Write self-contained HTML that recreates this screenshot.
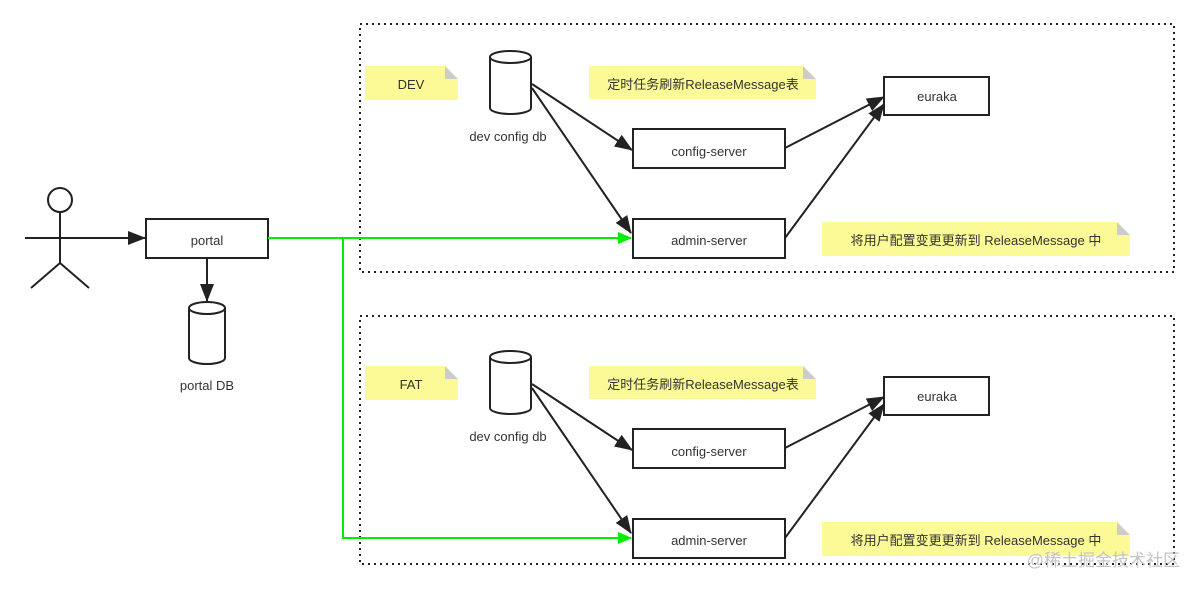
<!DOCTYPE html>
<html><head><meta charset="utf-8"><style>
html,body{margin:0;padding:0;background:#fff;width:1198px;height:589px;overflow:hidden}
text{font-family:"Liberation Sans","Noto Sans CJK SC",sans-serif;font-size:13px;fill:#333}
</style></head><body>
<svg width="1198" height="589" viewBox="0 0 1198 589" xmlns="http://www.w3.org/2000/svg">
<defs>
<marker id="g" markerWidth="14" markerHeight="14" refX="13" refY="7" orient="auto" markerUnits="userSpaceOnUse"><path d="M0,1 L14,7 L0,13 Z" fill="#00ee00"/></marker>
<marker id="b" markerWidth="18" markerHeight="14" refX="17" refY="7" orient="auto" markerUnits="userSpaceOnUse"><path d="M0,0 L18,7 L0,14 Z" fill="#222"/></marker>
</defs>
<g stroke="#222" stroke-width="2" fill="none">
<circle cx="60" cy="200" r="12" fill="#fff"/>
<line x1="60" y1="212" x2="60" y2="263"/>
<line x1="25" y1="238" x2="145" y2="238" marker-end="url(#b)"/>
<line x1="60" y1="263" x2="31" y2="288"/>
<line x1="60" y1="263" x2="89" y2="288"/>
<rect x="146" y="219" width="122" height="39" fill="#fff"/>
<line x1="207" y1="258" x2="207" y2="301" marker-end="url(#b)"/>
<path d="M189,308 a18,6 0 0 1 36,0 v50 a18,6 0 0 1 -36,0 Z" fill="#fff"/>
<path d="M189,308 a18,6 0 0 0 36,0"/>
</g>
<text x="207" y="245" text-anchor="middle">portal</text>
<text x="207" y="390" text-anchor="middle">portal DB</text>
<rect x="360" y="24" width="814" height="248" fill="none" stroke="#222" stroke-width="2" stroke-dasharray="2,4"/>
<rect x="360" y="316" width="814" height="248" fill="none" stroke="#222" stroke-width="2" stroke-dasharray="2,4"/>
<g id="env"></g>
<g stroke="#00ee00" stroke-width="2" fill="none">
<polyline points="268,238 343,238 343,538 631,538" marker-end="url(#g)"/>
<line x1="343" y1="238" x2="631" y2="238" marker-end="url(#g)"/>
</g>
<text x="1180" y="566" text-anchor="end" style="font-size:17px;fill:#c4c4c4">@稀土掘金技术社区</text>
</svg>
<script>
var tpl=function(lbl){return `
<path d="M365,66 H445 L458,79 V100 H365 Z" fill="#fbfa96"/><path d="M445,66 L458,79 H445 Z" fill="#ccc"/>
<text x="411" y="89" text-anchor="middle">${lbl}</text>
<path d="M589,66 H803 L816,79 V99 H589 Z" fill="#fbfa96"/><path d="M803,66 L816,79 H803 Z" fill="#ccc"/>
<text x="703" y="89" text-anchor="middle">定时任务刷新ReleaseMessage表</text>
<path d="M822,222 H1117 L1130,235 V256 H822 Z" fill="#fbfa96"/><path d="M1117,222 L1130,235 H1117 Z" fill="#ccc"/>
<text x="976" y="245" text-anchor="middle">将用户配置变更更新到 ReleaseMessage 中</text>
<g stroke="#222" stroke-width="2" fill="none">
<path d="M490,57 a20.5,6 0 0 1 41,0 v51 a20.5,6 0 0 1 -41,0 Z" fill="#fff"/>
<path d="M490,57 a20.5,6 0 0 0 41,0"/>
<rect x="633" y="129" width="152" height="39" fill="#fff"/>
<rect x="633" y="219" width="152" height="39" fill="#fff"/>
<rect x="884" y="77" width="105" height="38" fill="#fff"/>
<line x1="532" y1="84" x2="632" y2="150" marker-end="url(#b)"/>
<line x1="532" y1="88" x2="631" y2="233" marker-end="url(#b)"/>
<line x1="785" y1="148" x2="884" y2="97" marker-end="url(#b)"/>
<line x1="785" y1="238" x2="884" y2="104" marker-end="url(#b)"/>
</g>
<text x="508" y="141" text-anchor="middle">dev config db</text>
<text x="709" y="156" text-anchor="middle">config-server</text>
<text x="709" y="245" text-anchor="middle">admin-server</text>
<text x="937" y="101" text-anchor="middle">euraka</text>`};
document.getElementById('env').innerHTML=tpl('DEV')+'<g transform="translate(0,300)">'+tpl('FAT')+'</g>';
</script>
</body></html>
